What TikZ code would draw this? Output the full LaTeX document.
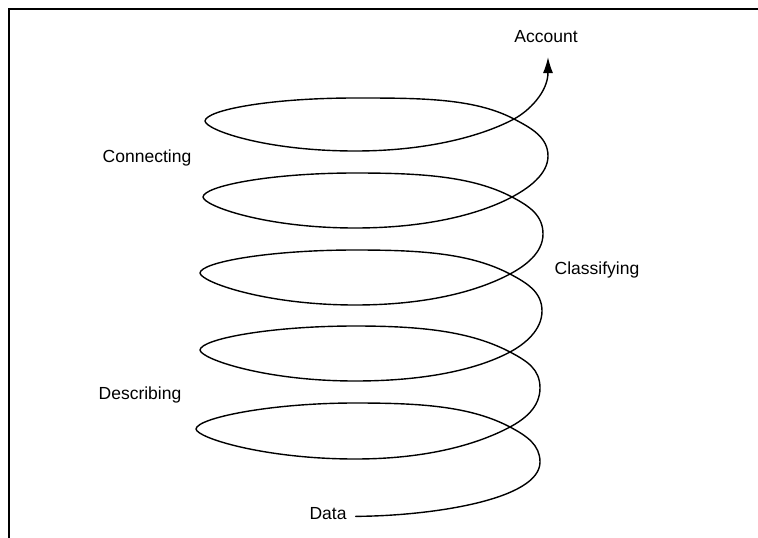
\documentclass[tikz,border=0pt]{standalone}
\usepackage{fontspec}
\setmainfont{Liberation Sans}
\usetikzlibrary{arrows.meta}
\begin{document}
\begin{tikzpicture}[x=1pt,y=-1pt,
  lbl/.style={anchor=base,inner sep=0pt,font=\fontsize{17.5}{20}\selectfont},
  spiral/.style={line width=1.4pt,line join=round,line cap=round},
  frame/.style={line width=2pt}]
\useasboundingbox (0,0) rectangle (758,538);
\draw[frame] (758,9) -- (9,9) -- (9,538);
\node[lbl] (account) at (546,42) {Account};
\node[lbl] (connecting) at (147,162) {Connecting};
\node[lbl] (classifying) at (597,274) {Classifying};
\node[lbl] (describing) at (140,399) {Describing};
\node[lbl,inner xsep=9pt] (data) at (328,519) {Data};
\coordinate (acc) at (548,57);
\draw[spiral,-{Latex[length=16pt,width=10pt]}] (data.mid east)
 .. controls (430,516) and (540,500) .. (540,462)
 .. controls (540,445) and (527,436) .. (510,427)
 .. controls (470,406) and (420,403) .. (355,403)
 .. controls (270,403) and (197,418) .. (196,429)
 .. controls (197,438) and (265,459) .. (355,459)
 .. controls (430,459) and (480,443) .. (510,427)
 .. controls (525,419) and (540,407) .. (540,388)
 .. controls (540,369) and (527,361) .. (510,352)
 .. controls (470,331) and (420,326) .. (355,326)
 .. controls (270,326) and (201,339) .. (200,350)
 .. controls (201,359) and (265,381) .. (355,381)
 .. controls (430,381) and (480,368) .. (510,352)
 .. controls (525,344) and (542,330) .. (542,311)
 .. controls (542,292) and (527,283) .. (510,274)
 .. controls (470,253) and (420,250) .. (355,250)
 .. controls (270,250) and (201,262) .. (200,273)
 .. controls (201,282) and (265,305) .. (355,305)
 .. controls (430,305) and (480,290) .. (510,274)
 .. controls (525,266) and (543,253) .. (543,234)
 .. controls (543,215) and (529,206) .. (512,197)
 .. controls (472,176) and (420,173) .. (355,173)
 .. controls (270,173) and (204,186) .. (203,197)
 .. controls (204,206) and (265,228) .. (355,228)
 .. controls (430,228) and (482,213) .. (512,197)
 .. controls (527,189) and (548,175) .. (548,156)
 .. controls (548,137) and (531,128) .. (514,119)
 .. controls (474,98) and (420,98) .. (355,98)
 .. controls (270,98) and (206,110) .. (205,121)
 .. controls (206,130) and (265,151) .. (355,151)
 .. controls (430,151) and (484,135) .. (514,119)
 .. controls (529,111) and (548,92) .. (acc);
\end{tikzpicture}
\end{document}
